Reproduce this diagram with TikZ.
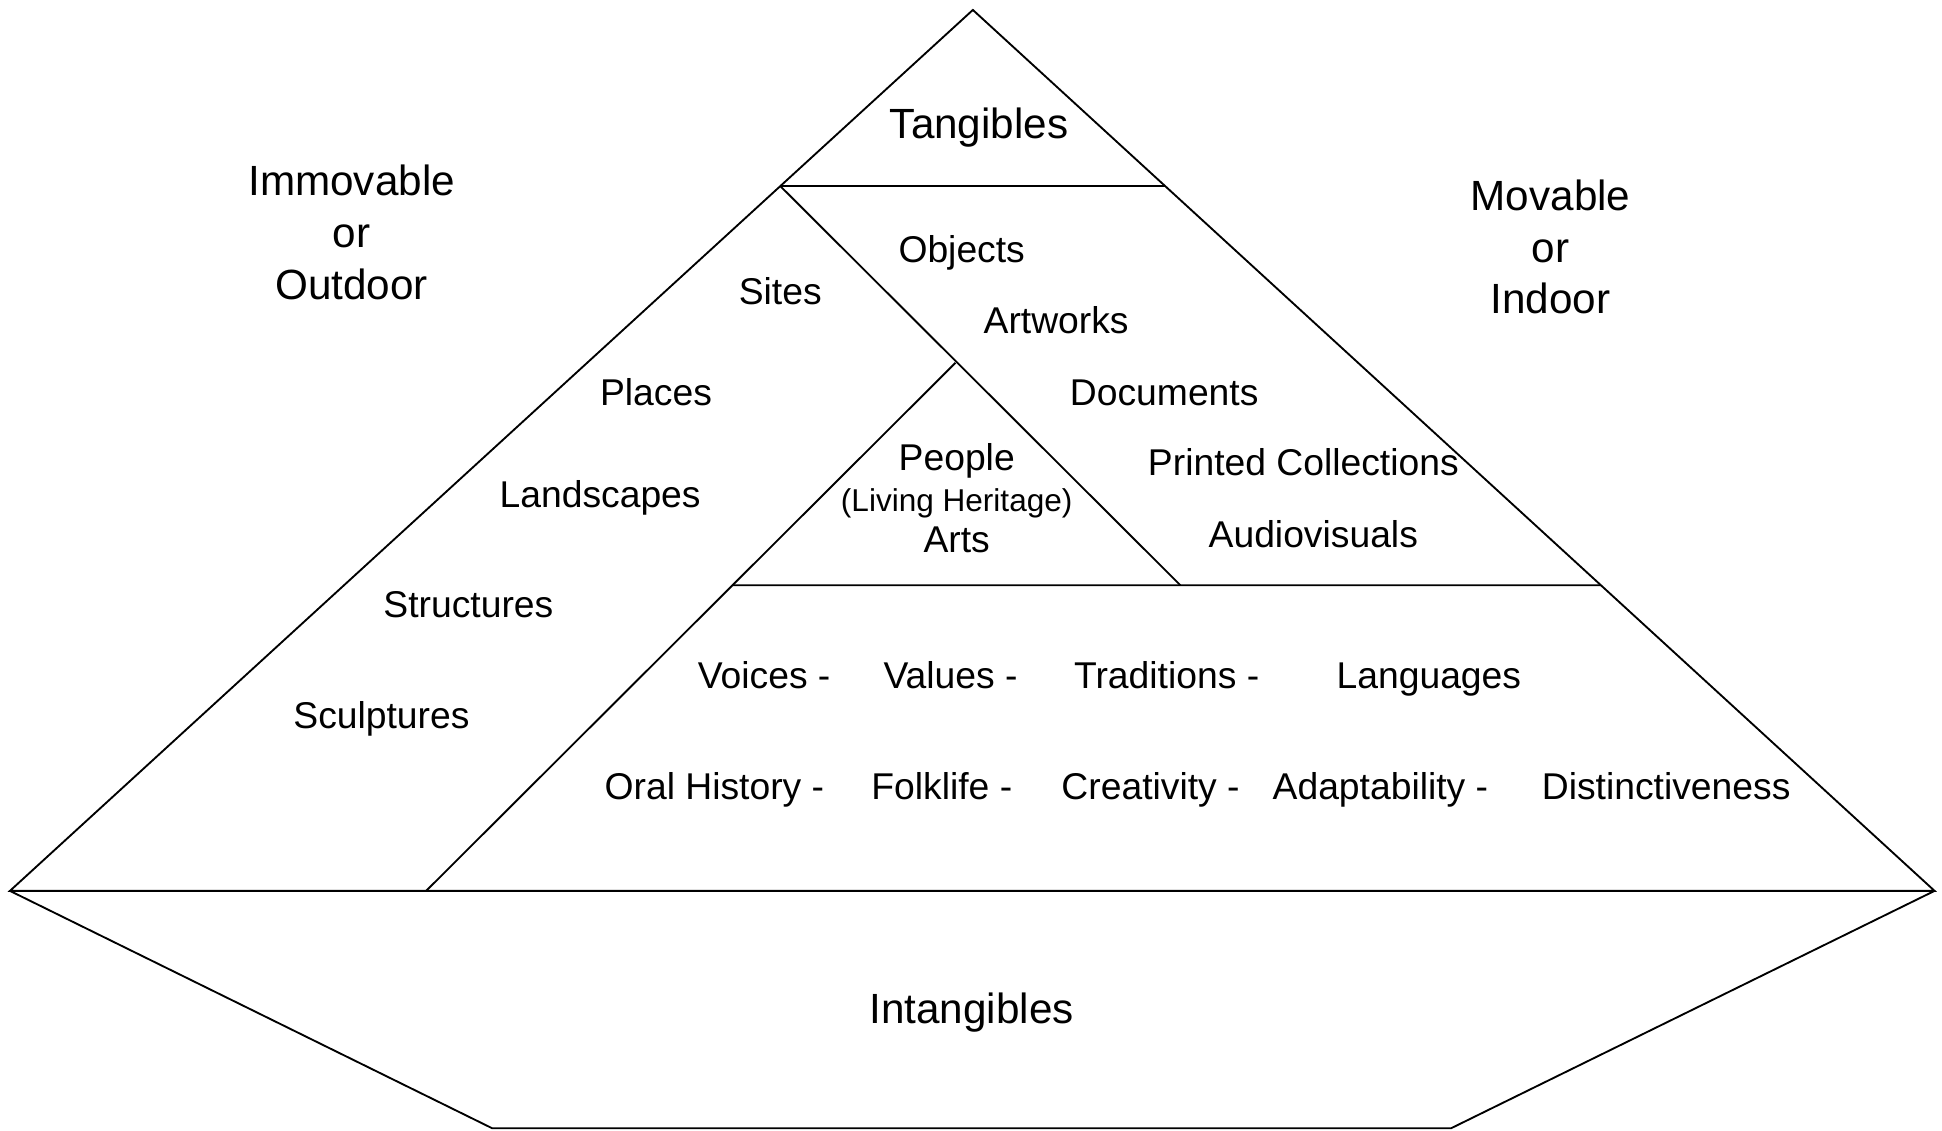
\documentclass[tikz,border=0pt]{standalone}
\usepackage{fontspec}
\setmainfont{Liberation Sans}
\usetikzlibrary{calc}

\begin{document}
\begin{tikzpicture}[x=0.5pt,y=-0.5pt]
		\tikzset{pyramid line/.style={draw,line width=0.75pt,line join=miter},
			big label/.style={font=\fontsize{17}{20.75}\selectfont,align=center,inner sep=0pt},
			item label/.style={font=\fontsize{15}{16.5}\selectfont,align=center,inner sep=0pt},
			row label/.style={item label,text height=11pt,text depth=3.2pt,yshift=-1.25pt}}
		
		\useasboundingbox (0,0) rectangle (1563,910);
		\coordinate (T) at (783,8);
		\coordinate (L) at (8,717);
		\coordinate (R) at (1557,717);
		\coordinate (tl) at ($(T)!0.2!(L)$);
		\coordinate (tr) at ($(T)!0.2!(R)$);
		\coordinate (mr) at ($(T)!0.653!(R)$);
		\coordinate (P) at (769,292);
		\coordinate (pl) at (590,471);
		\coordinate (pr) at (950,471);
		\coordinate (bl) at (343,717);
		\coordinate (hl) at (396,908);
		\coordinate (hr) at (1168,908);
		
		\draw[pyramid line] (T) -- (L) -- (R) -- cycle;
		\draw[pyramid line] (L) -- (hl) -- (hr) -- (R);
		\draw[pyramid line] (tl) -- (tr);
		\draw[pyramid line] (tl) -- (pr);
		\draw[pyramid line] (P) -- (bl);
		\draw[pyramid line] (pl) -- (mr);
		
		\node[big label] (tang) at (788,103) {Tangibles};
		\node[big label] (immov) at (283,187) {Immovable\\or\\Outdoor};
		\node[big label] (mov) at (1248,199) {Movable\\or\\Indoor};
		\node[big label] (intang) at (782,815) {Intangibles};
		
		\node[row label] (obj) at (774,201) {Objects};
		\node[row label] (art) at (850,258) {Artworks};
		\node[row label] (doc) at (937,316) {Documents};
		\node[row label] (print) at (1049,372) {Printed Collections};
		\node[row label] (audio) at (1057,430) {Audiovisuals};
		
		\node[row label] (site) at (628,235) {Sites};
		\node[row label] (place) at (528,316) {Places};
		\node[row label] (land) at (483,398) {Landscapes};
		\node[row label] (struct) at (377,487) {Structures};
		\node[row label] (sculpt) at (307,576) {Sculptures};
		
		\node[item label] (people) at (770,401) {People\\{\fontsize{12.7}{16.5}\selectfont (Living Heritage)}\\Arts};
		
		\node[row label] (voice) at (615,544) {Voices -};
		\node[row label] (value) at (765,544) {Values -};
		\node[row label] (trad) at (939,544) {Traditions -};
		\node[row label] (lang) at (1150,544) {Languages};
		\node[row label] (oral) at (575,633) {Oral History -};
		\node[row label] (folk) at (758,633) {Folklife -};
		\node[row label] (creat) at (926,633) {Creativity -};
		\node[row label] (adapt) at (1111,633) {Adaptability -};
		\node[row label] (dist) at (1341,633) {Distinctiveness};
		\end{tikzpicture}
\end{document}
